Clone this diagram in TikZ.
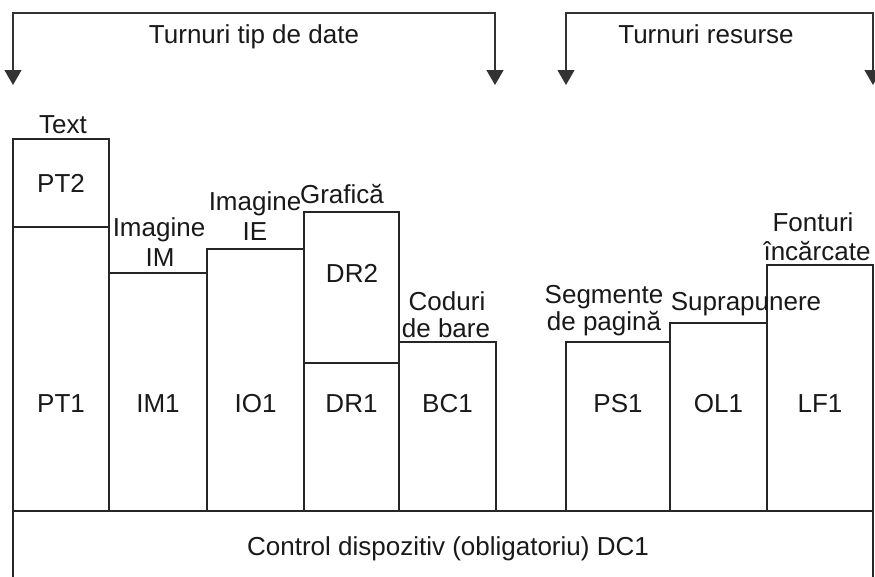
\documentclass[tikz,border=0pt]{standalone}
\usepackage{fontspec}
\setmainfont{Liberation Sans}
\usetikzlibrary{arrows.meta}
\begin{document}
\begin{tikzpicture}[x=1pt,y=-1pt,
  frame/.style={draw=black!85,line width=1.2pt},
  lbl/.style={anchor=base,inner sep=0pt,text=black!90,font=\fontsize{26}{30}\selectfont},
  tip/.tip={Triangle[width=17pt,length=15pt]},
  bracket/.style={draw=black!80,line width=1.2pt,tip-tip}]
  \useasboundingbox[fill=white] (0,0) rectangle (875,576);
  \clip (0,0) rectangle (875,576);

  % tower groups along the top
  \coordinate (a1) at (13,85);
  \coordinate (a2) at (495,85);
  \coordinate (b1) at (566,85);
  \coordinate (b2) at (873,85);
  \draw[bracket] (a1) |- (254,13) -| (a2);
  \draw[bracket] (b1) |- (706,13) -| (b2);
  \node[lbl] (tdate) at (254,43) {Turnuri tip de date};
  \node[lbl] (tres) at (706,43) {Turnuri resurse};

  % towers
  \draw[frame] (13,139) rectangle (109,227);
  \draw[frame] (13,227) rectangle (109,511);
  \draw[frame] (109,273) rectangle (207,511);
  \draw[frame] (207,249) rectangle (304,511);
  \draw[frame] (304,212) rectangle (399,363);
  \draw[frame] (304,363) rectangle (399,511);
  \draw[frame] (399,342) rectangle (496,511);
  \draw[frame] (566,342) rectangle (670,511);
  \draw[frame] (670,323) rectangle (767,511);
  \draw[frame] (767,265) rectangle (873,511);
  % device control base
  \draw[frame] (13,511) rectangle (873,620);

  % tower headings
  \node[lbl] (ttext) at (63,133) {Text};
  \node[lbl] (pt2) at (61,192) {PT2};
  \node[lbl] (imA) at (159,236) {Imagine};
  \node[lbl] (imB) at (160,266) {IM};
  \node[lbl] (ieA) at (255,210) {Imagine};
  \node[lbl] (ieB) at (255,240) {IE};
  \node[lbl] (graf) at (342,203) {Grafică};
  \node[lbl] (dr2) at (352,282) {DR2};
  \node[lbl] (bcA) at (447,310) {Coduri};
  \node[lbl] (bcB) at (446,337) {de bare};
  \node[lbl] (psA) at (604,303) {Segmente};
  \node[lbl] (psB) at (604,330) {de pagină};
  \node[lbl] (ol) at (746,310) {Suprapunere};
  \node[lbl] (lfA) at (813,231) {Fonturi};
  \node[lbl] (lfB) at (817,260) {încărcate};

  % tower names
  \node[lbl] (pt1) at (61,412) {PT1};
  \node[lbl] (im1) at (158,412) {IM1};
  \node[lbl] (io1) at (255.5,412) {IO1};
  \node[lbl] (dr1) at (351.5,412) {DR1};
  \node[lbl] (bc1) at (447.5,412) {BC1};
  \node[lbl] (ps1) at (618,412) {PS1};
  \node[lbl] (ol1) at (718.5,412) {OL1};
  \node[lbl] (lf1) at (820,412) {LF1};
  \node[lbl] (dc1) at (448,555) {Control dispozitiv (obligatoriu) DC1};
\end{tikzpicture}
\end{document}
